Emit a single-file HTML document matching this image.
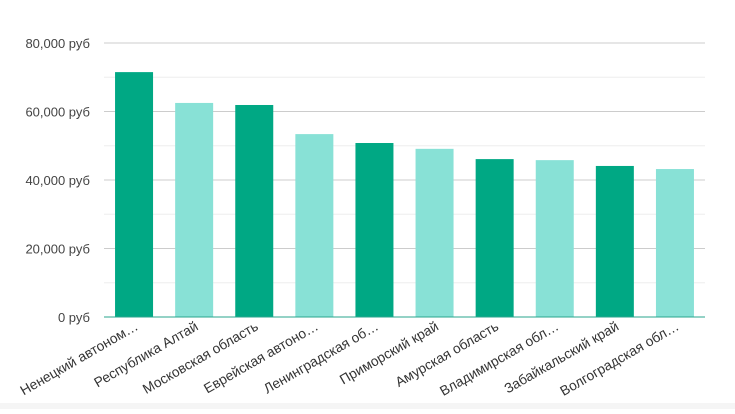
<!DOCTYPE html>
<html><head><meta charset="utf-8"><style>
body{margin:0;background:#fff;width:735px;height:409px;overflow:hidden;font-family:"Liberation Sans",Arial,sans-serif}
</style></head><body>
<svg id="c" width="735" height="409">
<rect x="0" y="403" width="735" height="6" fill="#f5f5f5"/>
</svg>
<script>
const categories=["Ненецкий автоном…","Республика Алтай","Московская область","Еврейская автоно…","Ленинградская об…","Приморский край","Амурская область","Владимирская обл…","Забайкальский край","Волгоградская обл…"];
const values=[71500,62500,61900,53400,50800,49100,46100,45800,44100,43200];
const ticks=[0,20000,40000,60000,80000];
const tickLabels=["0 руб","20,000 руб","40,000 руб","60,000 руб","80,000 руб"];
const svg=document.getElementById('c');const NS='http://www.w3.org/2000/svg';
const y0=317,y1=43,x0=104,x1=705,maxV=80000;
const y=v=>y0-(v/maxV)*(y0-y1);
const step=(x1-x0)/categories.length;
const cx=i=>x0+step*(i+0.5);
function mk(t,a){const e=document.createElementNS(NS,t);for(const k in a)e.setAttribute(k,a[k]);svg.appendChild(e);return e;}
for(let k=0;k<ticks.length-1;k++){const v=(ticks[k]+ticks[k+1])/2;
const l=mk('line',{x1:x0,x2:x1,y1:y(v),y2:y(v),stroke:'#eeeeee'});

}
ticks.forEach((t,k)=>{
if(t>0){const l=mk('line',{x1:x0,x2:x1,y1:y(t),y2:y(t),stroke:'#cccccc'});

}
const tx=mk('text',{x:90,y:y(t)+5,'text-anchor':'end','font-size':13,fill:'#444'});tx.textContent=tickLabels[k];

});
values.forEach((v,i)=>{
const r=mk('rect',{x:cx(i)-19,y:y(v),width:38,height:y0-y(v),fill:i%2?'#88e1d6':'#00a884'});


const t=mk('text',{transform:`translate(${cx(i)+5},${y0+12}) rotate(-30)`,'text-anchor':'end','font-size':13.8,fill:'#333'});t.textContent=categories[i];

});
const ax=mk('line',{x1:x0,x2:x1,y1:y0,y2:y0,stroke:'#2aa58e','stroke-width':1});


</script>
</body></html>
